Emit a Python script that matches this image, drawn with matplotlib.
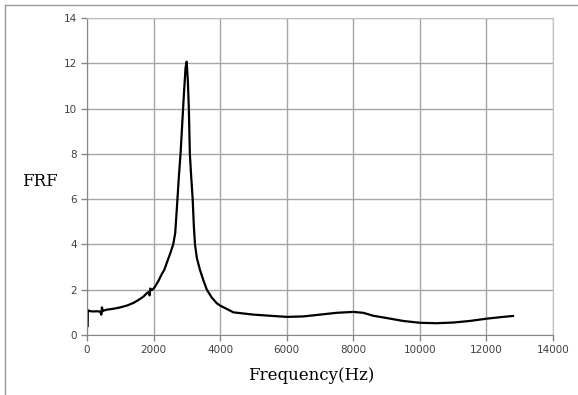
import numpy as np
import matplotlib.pyplot as plt
from matplotlib.lines import Line2D

# curva FRF (Hz, magnitud)
freq = [20, 25, 40, 100, 200, 300, 400, 430, 450, 470, 500, 600, 800, 1000, 1200,
        1400, 1550, 1700, 1800, 1850, 1880, 1900, 1950, 2000, 2050, 2150, 2250,
        2320, 2400, 2500, 2590, 2650, 2700, 2760, 2810, 2860, 2910, 2960, 2995,
        3030, 3060, 3090, 3130, 3175, 3210, 3245, 3300, 3395, 3500, 3600, 3750,
        3900, 4000, 4200, 4400, 4700, 5000, 5500, 6000, 6500, 7000, 7500, 8000,
        8300, 8600, 9000, 9500, 10000, 10500, 11000, 11500, 12000, 12500, 12800]
frf = [0.4, 1.1, 1.08, 1.05, 1.04, 1.05, 1.03, 0.9, 1.22, 1.05, 1.08, 1.12, 1.16,
       1.22, 1.3, 1.42, 1.55, 1.7, 1.85, 1.9, 1.75, 2.05, 1.98, 2.05, 2.15, 2.4,
       2.7, 2.87, 3.2, 3.6, 4.0, 4.5, 5.6, 7.0, 8.0, 9.3, 10.6, 11.8, 12.07,
       11.2, 10.0, 8.0, 7.0, 6.0, 4.8, 4.0, 3.4, 2.87, 2.4, 2.0, 1.65, 1.4, 1.3,
       1.15, 1.0, 0.95, 0.9, 0.85, 0.8, 0.82, 0.9, 0.98, 1.02, 0.98, 0.85, 0.75,
       0.62, 0.54, 0.52, 0.55, 0.62, 0.72, 0.8, 0.84]

xticks = np.arange(0, 14001, 2000)
yticks = np.arange(0, 15, 2)

fig = plt.figure(figsize=(5.78, 3.95), dpi=100)
ax = fig.add_axes([87/578, 1 - 335/395, 466/578, 317/395])

ax.plot(freq, frf, color='black', linewidth=1.6)

ax.set_xlim(0, 14000)
ax.set_ylim(0, 14)
ax.set_xticks(xticks)
ax.set_yticks(yticks)
ax.grid(True, color='#a6a6a6', linewidth=1)
ax.tick_params(colors='#868686', labelcolor='#404040', labelsize=7.5, length=4, width=1)
for s in ['left', 'bottom']:
    ax.spines[s].set_color('#868686')
for s in ['top', 'right']:
    ax.spines[s].set_color('#c0c0c0')

fig.text(40/578, 1 - 182/395, 'FRF', family='DejaVu Serif', fontsize=12,
         ha='center', va='center')
fig.text(311/578, 1 - 375/395, 'Frequency(Hz)', family='DejaVu Serif', fontsize=12,
         ha='center', va='center')

# borde de la captura (arriba e izquierda)
fig.add_artist(Line2D([5/578, 1], [1 - 5/395, 1 - 5/395], color='#999999', linewidth=1))
fig.add_artist(Line2D([5/578, 5/578], [0, 1 - 5/395], color='#999999', linewidth=1))

plt.savefig("out.png", dpi=100)
